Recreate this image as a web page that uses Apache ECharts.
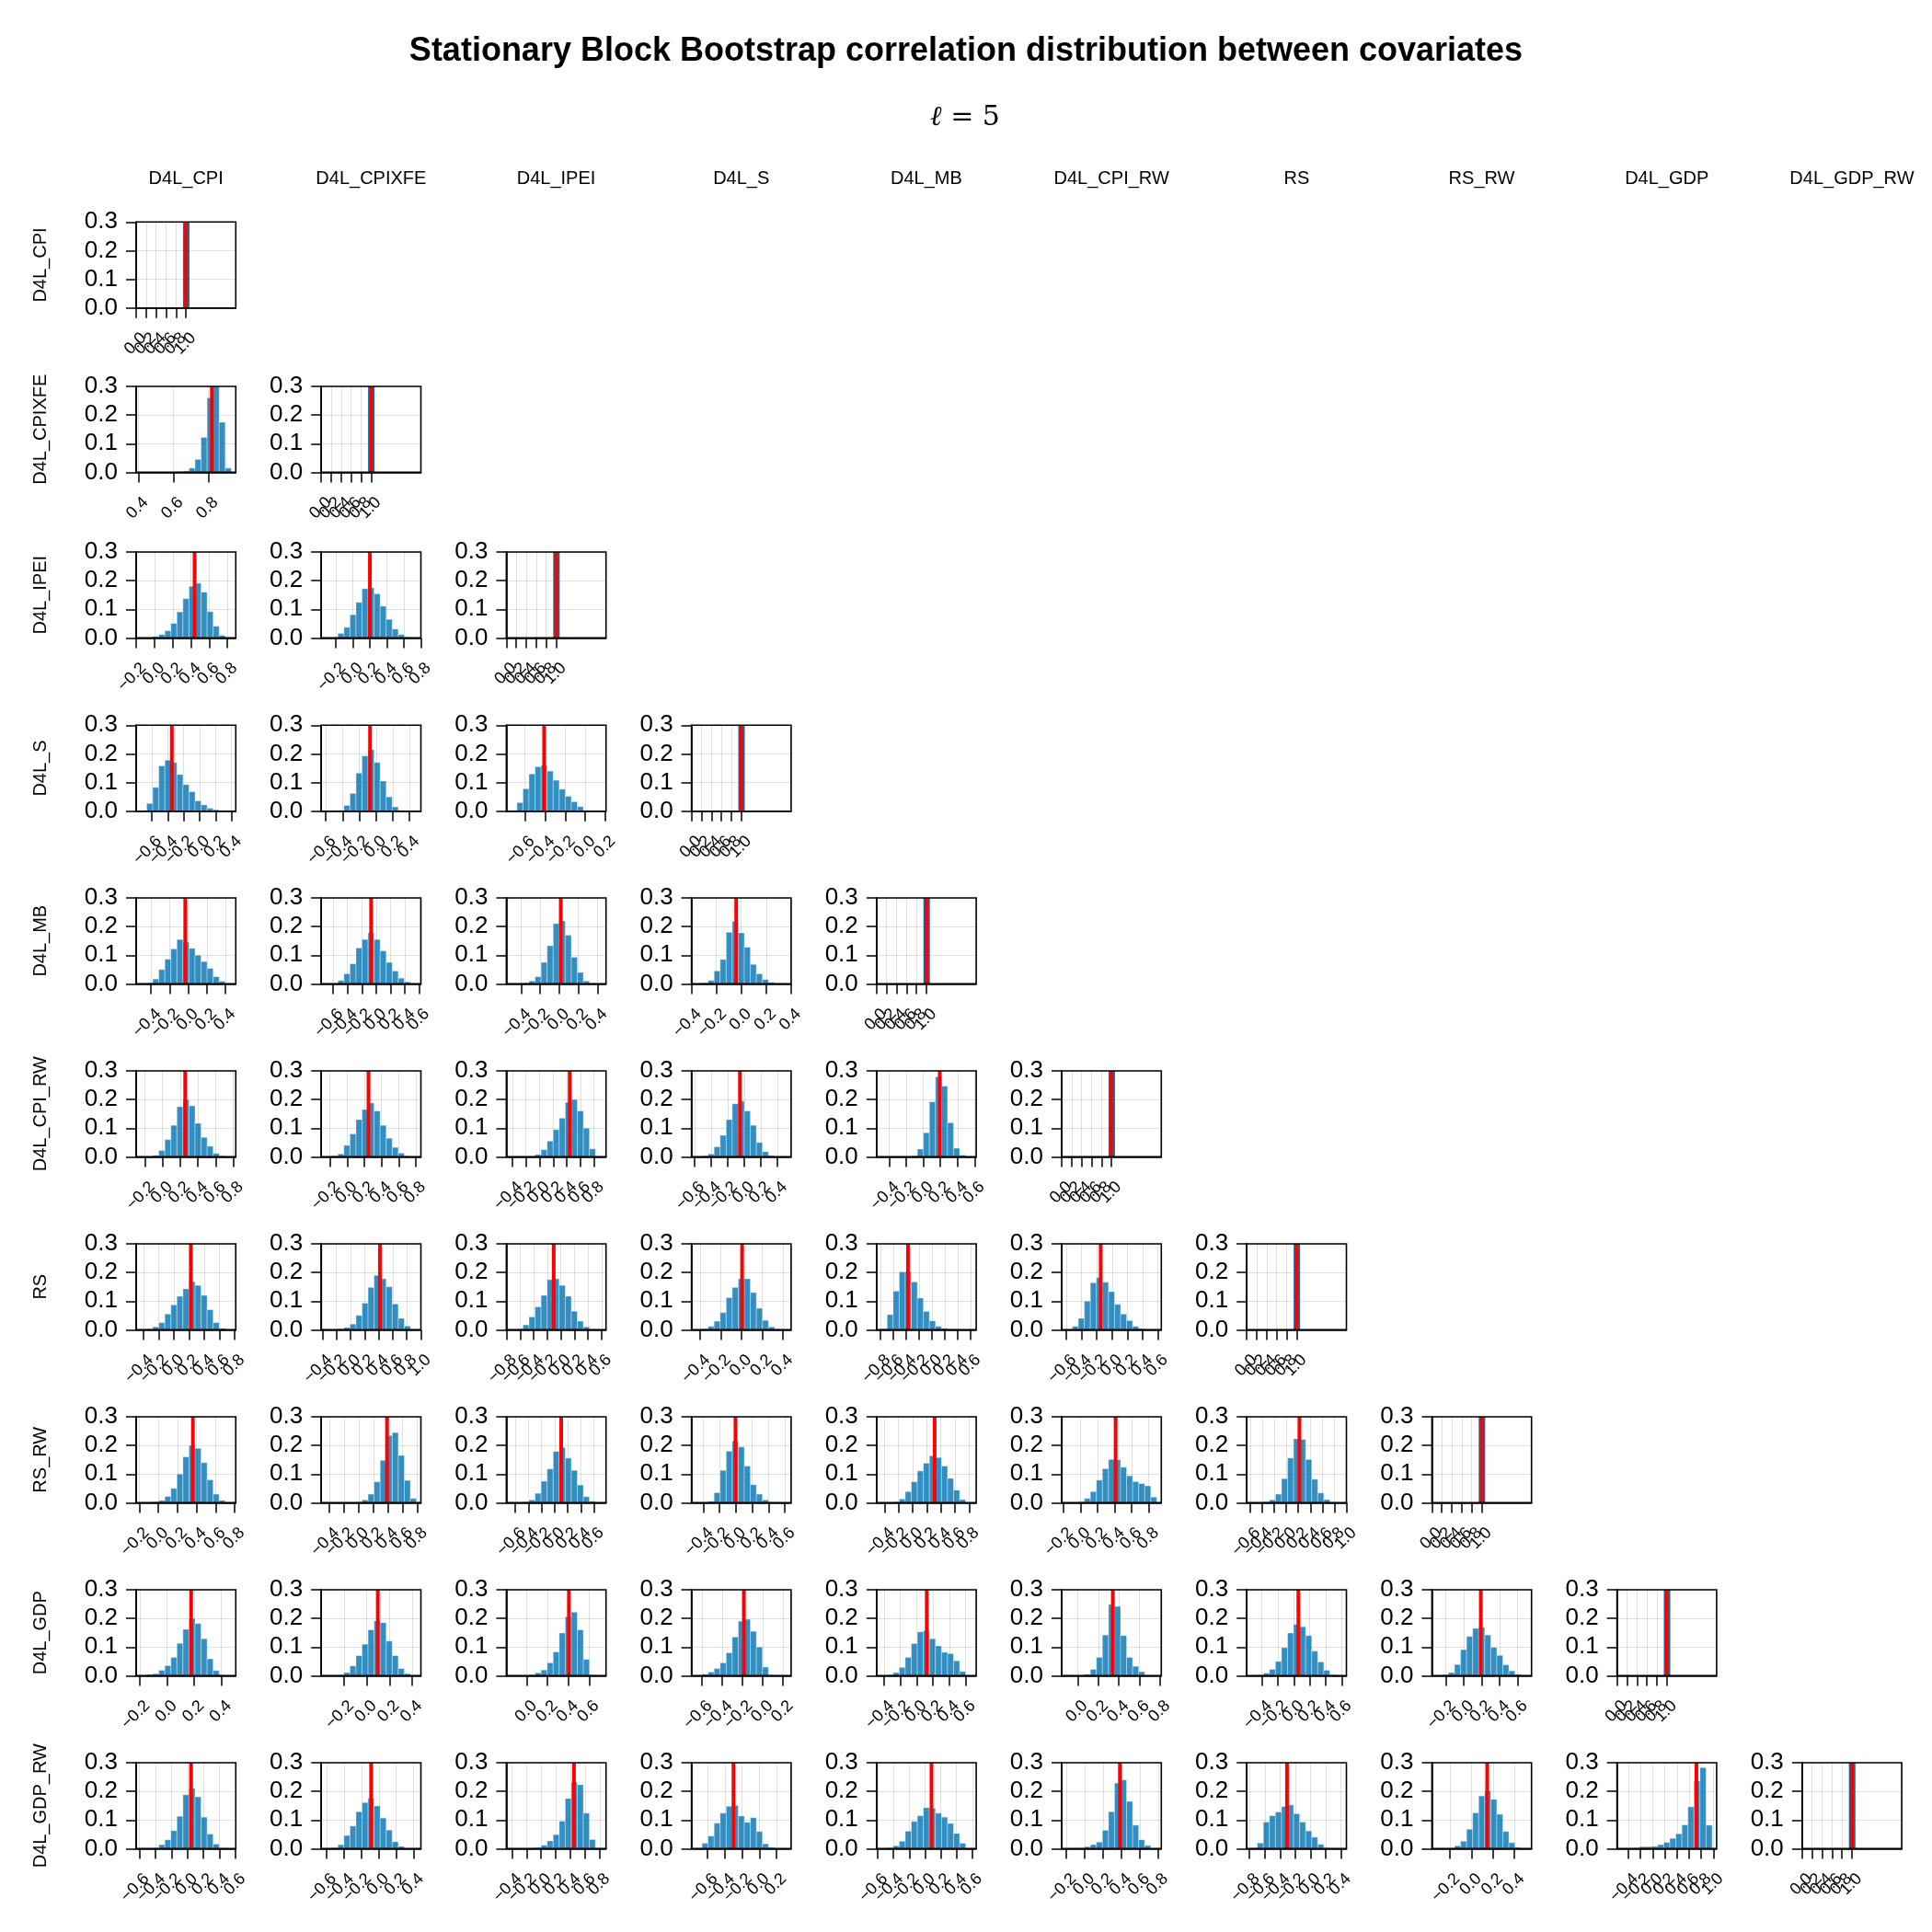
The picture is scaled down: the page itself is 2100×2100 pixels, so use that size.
<!DOCTYPE html>
<html><head><meta charset="utf-8">
<script src="https://cdn.jsdelivr.net/npm/echarts@6/dist/echarts.min.js"></script>
<style>html,body{margin:0;padding:0;background:#fff}#chart{width:2100px;height:2100px}</style>
</head><body><div id="chart"></div>
<script>
// ---------------- DATA ----------------
const VARS = ['D4L_CPI','D4L_CPIXFE','D4L_IPEI','D4L_S','D4L_MB','D4L_CPI_RW','RS','RS_RW','D4L_GDP','D4L_GDP_RW'];
const SHORT = ['CPI','CPIXFE','IPEI','S','MB','CPIRW','RS','RSRW','GDP','GDPRW'];
const TITLE = 'Stationary Block Bootstrap correlation distribution between covariates';
const XTICKS = [-1.0,-0.8,-0.6,-0.4,-0.2,0.0,0.2,0.4,0.6,0.8,1.0];
const YTICKS = [0.0,0.1,0.2,0.3];
const Y_RANGE = [0, 0.3];
const DIAG_RANGE = [0, 2];
const DIAG_BAR = [0.94, 1.07];
const DIAG_HEIGHT = [1.0];
const DIAG_CORR = [1.0];

// Row D4L_CPIXFE
const lo_CPIXFE = [0.414];
const hi_CPIXFE = [0.932];
const corr_CPIXFE = [0.821];
const p_CPIXFE_CPI = [0.001,0,0,0,0,0,0.002,0.005,0.015,0.045,0.122,0.26,0.36,0.175,0.015];

// Row D4L_IPEI
const lo_IPEI = [-0.152,-0.319];
const hi_IPEI = [0.843,0.747];
const corr_IPEI = [0.44,0.2];
const p_IPEI_CPI = [0.001,0.001,0.005,0.012,0.025,0.051,0.091,0.137,0.18,0.191,0.16,0.092,0.041,0.009,0.002];
const p_IPEI_CPIXFE = [0.001,0.002,0.016,0.037,0.081,0.124,0.172,0.175,0.154,0.111,0.065,0.031,0.012,0.003,0.001];

// Row D4L_S
const lo_S = [-0.738,-0.601,-0.737];
const hi_S = [0.396,0.482,0.16];
const corr_S = [-0.348,-0.072,-0.408];
const p_S_CPI = [0.001,0.027,0.083,0.158,0.178,0.17,0.128,0.093,0.068,0.036,0.022,0.01,0.005,0.001,0.001];
const p_S_CPIXFE = [0.001,0.001,0.003,0.02,0.062,0.133,0.193,0.215,0.17,0.105,0.05,0.015,0.003,0.001,0.001];
const p_S_IPEI = [0.002,0.03,0.078,0.13,0.155,0.16,0.14,0.108,0.077,0.052,0.033,0.016,0.003,0.001,0.001];

// Row D4L_MB
const lo_MB = [-0.512,-0.701,-0.506,-0.364];
const hi_MB = [0.462,0.558,0.442,0.364];
const corr_MB = [-0.033,-0.071,0.016,-0.041];
const p_MB_CPI = [0.001,0.003,0.017,0.05,0.086,0.122,0.155,0.146,0.124,0.1,0.078,0.054,0.025,0.009,0.001];
const p_MB_CPIXFE = [0.001,0.002,0.012,0.035,0.07,0.125,0.155,0.178,0.155,0.115,0.075,0.045,0.02,0.007,0.001];
const p_MB_IPEI = [0.001,0.001,0.003,0.01,0.025,0.075,0.133,0.21,0.22,0.17,0.093,0.04,0.01,0.002,0.001];
const p_MB_S = [0.001,0.003,0.012,0.045,0.085,0.18,0.218,0.178,0.128,0.068,0.035,0.015,0.005,0.001,0.001];

// Row D4L_CPI_RW
const lo_CPIRW = [-0.248,-0.249,-0.422,-0.582,-0.494];
const hi_CPIRW = [0.778,0.807,0.911,0.512,0.565];
const corr_CPIRW = [0.256,0.249,0.444,-0.051,0.192];
const p_CPIRW_CPI = [0.001,0.001,0.005,0.022,0.06,0.11,0.175,0.2,0.178,0.117,0.068,0.037,0.012,0.003,0.001];
const p_CPIRW_CPIXFE = [0.001,0.003,0.01,0.04,0.08,0.13,0.165,0.188,0.16,0.11,0.065,0.033,0.013,0.003,0.001];
const p_CPIRW_IPEI = [0.001,0.001,0.001,0.002,0.008,0.025,0.055,0.095,0.135,0.19,0.2,0.16,0.1,0.028,0.002];
const p_CPIRW_S = [0.001,0.003,0.01,0.035,0.075,0.13,0.185,0.195,0.16,0.11,0.05,0.018,0.004,0.001,0.001];
const p_CPIRW_MB = [0.001,0,0,0,0.001,0.003,0.027,0.084,0.192,0.279,0.247,0.119,0.03,0.006,0.001];

// Row RS
const lo_RS = [-0.435,-0.351,-0.735,-0.44,-0.791,-0.602];
const hi_RS = [0.754,0.936,0.6,0.435,0.615,0.587];
const corr_RS = [0.224,0.418,-0.104,0.005,-0.374,-0.149];
const p_RS_CPI = [0.001,0.003,0.01,0.025,0.055,0.087,0.117,0.143,0.168,0.155,0.12,0.07,0.025,0.005,0.001];
const p_RS_CPIXFE = [0.001,0.001,0.003,0.008,0.02,0.05,0.093,0.148,0.19,0.178,0.15,0.09,0.04,0.013,0.002];
const p_RS_IPEI = [0.001,0.003,0.017,0.045,0.08,0.12,0.175,0.178,0.155,0.117,0.065,0.03,0.01,0.002,0.001];
const p_RS_S = [0.001,0.003,0.012,0.03,0.06,0.112,0.148,0.178,0.178,0.13,0.075,0.033,0.01,0.002,0.001];
const p_RS_MB = [0.003,0.053,0.135,0.202,0.203,0.167,0.111,0.064,0.031,0.012,0.005,0.002,0.001,0.001,0.001];
const p_RS_CPIRW = [0.001,0.012,0.04,0.1,0.164,0.182,0.166,0.133,0.089,0.055,0.032,0.012,0.004,0.001,0.001];

// Row RS_RW
const lo_RSRW = [-0.185,-0.45,-0.669,-0.489,-0.447,-0.165,-0.583];
const hi_RSRW = [0.764,0.787,0.716,0.62,0.836,0.893,0.925];
const corr_RSRW = [0.362,0.386,0.1,-0.006,0.311,0.412,0.218];
const p_RSRW_CPI = [0.001,0.001,0.003,0.008,0.022,0.05,0.1,0.16,0.2,0.19,0.14,0.08,0.03,0.008,0.001];
const p_RSRW_CPIXFE = [0.001,0,0,0.001,0.001,0.003,0.01,0.03,0.073,0.148,0.235,0.245,0.165,0.078,0.015];
const p_RSRW_IPEI = [0.001,0.001,0.003,0.01,0.033,0.075,0.118,0.179,0.193,0.156,0.113,0.062,0.021,0.005,0.001];
const p_RSRW_S = [0.001,0.001,0.005,0.035,0.113,0.18,0.215,0.195,0.128,0.063,0.03,0.01,0.002,0.001,0.001];
const p_RSRW_MB = [0.001,0.001,0.003,0.013,0.039,0.073,0.111,0.138,0.164,0.158,0.128,0.085,0.044,0.011,0.001];
const p_RSRW_CPIRW = [0.001,0.001,0.003,0.015,0.039,0.079,0.119,0.151,0.15,0.124,0.094,0.074,0.067,0.059,0.02];
const p_RSRW_RS = [0.001,0.001,0.003,0.01,0.03,0.084,0.156,0.223,0.221,0.151,0.082,0.034,0.011,0.002,0.001];

// Row D4L_GDP
const lo_GDP = [-0.194,-0.359,-0.154,-0.661,-0.436,-0.111,-0.534,-0.304];
const hi_GDP = [0.472,0.437,0.719,0.234,0.675,0.767,0.602,0.704];
const corr_GDP = [0.177,0.098,0.405,-0.188,0.124,0.341,0.056,0.19];
const p_GDP_CPI = [0.001,0.004,0.007,0.019,0.035,0.064,0.113,0.162,0.2,0.182,0.129,0.059,0.018,0.002,0.001];
const p_GDP_CPIXFE = [0.001,0.001,0.003,0.011,0.034,0.07,0.11,0.16,0.191,0.185,0.121,0.07,0.025,0.007,0.001];
const p_GDP_IPEI = [0.001,0,0.001,0.003,0.01,0.02,0.045,0.083,0.149,0.206,0.222,0.16,0.057,0.003,0.001];
const p_GDP_S = [0.001,0.005,0.013,0.025,0.045,0.08,0.135,0.19,0.197,0.155,0.1,0.03,0.003,0.001,0.001];
const p_GDP_MB = [0.001,0.003,0.011,0.029,0.064,0.112,0.153,0.157,0.129,0.104,0.082,0.077,0.052,0.015,0.001];
const p_GDP_CPIRW = [0.001,0,0.001,0.005,0.022,0.064,0.142,0.249,0.242,0.14,0.064,0.033,0.014,0.002,0.001];
const p_GDP_RS = [0.001,0.003,0.009,0.022,0.05,0.098,0.149,0.179,0.171,0.14,0.086,0.048,0.019,0.003,0.001];
const p_GDP_RSRW = [0.001,0.003,0.011,0.039,0.091,0.137,0.165,0.169,0.142,0.099,0.071,0.038,0.017,0.005,0.001];

// Row D4L_GDP_RW
const lo_GDPRW = [-0.582,-0.607,-0.412,-0.736,-0.557,-0.202,-0.777,-0.326,-0.512];
const hi_GDPRW = [0.545,0.43,0.82,0.318,0.592,0.785,0.413,0.516,0.978];
const corr_GDPRW = [0.045,-0.088,0.446,-0.3,0.082,0.383,-0.308,0.146,0.72];
const p_GDPRW_CPI = [0.001,0.001,0.003,0.014,0.031,0.063,0.113,0.188,0.21,0.181,0.11,0.051,0.016,0.002,0.001];
const p_GDPRW_CPIXFE = [0.001,0.003,0.014,0.046,0.079,0.129,0.161,0.176,0.149,0.107,0.065,0.024,0.008,0.001,0.001];
const p_GDPRW_IPEI = [0.001,0,0.001,0.002,0.004,0.012,0.027,0.049,0.096,0.175,0.232,0.223,0.124,0.032,0.002];
const p_GDPRW_S = [0.002,0.019,0.044,0.089,0.124,0.148,0.151,0.114,0.092,0.108,0.06,0.017,0.004,0.001,0.001];
const p_GDPRW_MB = [0.001,0.003,0.01,0.026,0.061,0.095,0.115,0.143,0.141,0.124,0.11,0.088,0.053,0.019,0.001];
const p_GDPRW_CPIRW = [0.001,0.001,0.002,0.007,0.014,0.023,0.064,0.129,0.229,0.24,0.165,0.082,0.031,0.011,0.001];
const p_GDPRW_RS = [0.002,0.02,0.093,0.115,0.128,0.147,0.153,0.122,0.093,0.062,0.04,0.015,0.003,0.001,0.001];
const p_GDPRW_RSRW = [0.001,0.001,0.002,0.01,0.026,0.068,0.125,0.184,0.202,0.172,0.12,0.06,0.021,0.004,0.001];
const p_GDPRW_GDP = [0.001,0.001,0.003,0.007,0.007,0.008,0.014,0.022,0.036,0.052,0.083,0.146,0.236,0.283,0.082];

// -------------- table built from the arrays --------------
const ROWDATA = {
  CPIXFE: {lo: lo_CPIXFE, hi: hi_CPIXFE, corr: corr_CPIXFE, p: [p_CPIXFE_CPI]},
  IPEI: {lo: lo_IPEI, hi: hi_IPEI, corr: corr_IPEI, p: [p_IPEI_CPI, p_IPEI_CPIXFE]},
  S: {lo: lo_S, hi: hi_S, corr: corr_S, p: [p_S_CPI, p_S_CPIXFE, p_S_IPEI]},
  MB: {lo: lo_MB, hi: hi_MB, corr: corr_MB, p: [p_MB_CPI, p_MB_CPIXFE, p_MB_IPEI, p_MB_S]},
  CPIRW: {lo: lo_CPIRW, hi: hi_CPIRW, corr: corr_CPIRW, p: [p_CPIRW_CPI, p_CPIRW_CPIXFE, p_CPIRW_IPEI, p_CPIRW_S, p_CPIRW_MB]},
  RS: {lo: lo_RS, hi: hi_RS, corr: corr_RS, p: [p_RS_CPI, p_RS_CPIXFE, p_RS_IPEI, p_RS_S, p_RS_MB, p_RS_CPIRW]},
  RSRW: {lo: lo_RSRW, hi: hi_RSRW, corr: corr_RSRW, p: [p_RSRW_CPI, p_RSRW_CPIXFE, p_RSRW_IPEI, p_RSRW_S, p_RSRW_MB, p_RSRW_CPIRW, p_RSRW_RS]},
  GDP: {lo: lo_GDP, hi: hi_GDP, corr: corr_GDP, p: [p_GDP_CPI, p_GDP_CPIXFE, p_GDP_IPEI, p_GDP_S, p_GDP_MB, p_GDP_CPIRW, p_GDP_RS, p_GDP_RSRW]},
  GDPRW: {lo: lo_GDPRW, hi: hi_GDPRW, corr: corr_GDPRW, p: [p_GDPRW_CPI, p_GDPRW_CPIXFE, p_GDPRW_IPEI, p_GDPRW_S, p_GDPRW_MB, p_GDPRW_CPIRW, p_GDPRW_RS, p_GDPRW_RSRW, p_GDPRW_GDP]}
};

// -------------- layout & style --------------
const FONT = '"Liberation Sans", "TeX Gyre Heros", Arial, Helvetica, sans-serif';
const PANEL_W = 108.3, PANEL_H = 93.4;
const COL_X0 = 148, COL_STEP = 201.2;
const ROW_TOPS = [241.3, 420, 600, 788.3, 976, 1164, 1352, 1540, 1728, 1916];
const PAD_FRAC = 0.05;
const BAR_FILL = 'rgba(0,114,178,0.8)';
const DIAG_FILL = 'rgb(0,114,178)';
const GRID_LINE = 'rgba(0,0,0,0.12)';
const XL_DX = 8, XL_DY = 30;

function fmt(v) {
  const s = Math.abs(v).toFixed(1);
  return (v < -1e-9 ? '\u2212' : '') + s;
}

const grids = [], xAxes = [], yAxes = [], series = [], graphics = [];
let idx = 0;
for (let r = 0; r < 10; r++) {
  for (let c = 0; c <= r; c++) {
    const diag = (r === c);
    let xmin, xmax, bins, corr, fill, stroke;
    if (diag) {
      xmin = DIAG_RANGE[0]; xmax = DIAG_RANGE[1];
      bins = [[DIAG_BAR[0], DIAG_BAR[1], DIAG_HEIGHT[0]]];
      corr = DIAG_CORR[0]; fill = DIAG_FILL; stroke = null;
    } else {
      const d = ROWDATA[SHORT[r]];
      const lo = d.lo[c], hi = d.hi[c], p = d.p[c];
      const pad = PAD_FRAC * (hi - lo);
      xmin = lo - pad; xmax = hi + pad;
      const w = (hi - lo) / p.length;
      bins = p.map((h, i) => [lo + i * w, lo + (i + 1) * w, h]);
      corr = d.corr[c]; fill = BAR_FILL; stroke = 'rgba(255,255,255,0.45)';
    }
    const ticksIn = XTICKS.filter(t => t >= xmin && t <= xmax);
    grids.push({
      left: COL_X0 + c * COL_STEP, top: ROW_TOPS[r], width: PANEL_W, height: PANEL_H,
      show: true, borderColor: '#000', borderWidth: 1.6, backgroundColor: 'transparent', z: 5
    });
    xAxes.push({
      gridIndex: idx, type: 'value', min: xmin, max: xmax,
      axisLine: {show: true, onZero: false, lineStyle: {color: '#000', width: 1.6}},
      axisTick: {show: true, length: 11, customValues: XTICKS, lineStyle: {color: '#000', width: 1.5}},
      axisLabel: {show: false, customValues: XTICKS},
      splitLine: {show: true, lineStyle: {color: GRID_LINE, width: 1}}
    });
    yAxes.push({
      gridIndex: idx, type: 'value', min: Y_RANGE[0], max: Y_RANGE[1],
      axisLine: {show: true, onZero: false, lineStyle: {color: '#000', width: 1.6}},
      axisTick: {show: true, length: 11, customValues: YTICKS, lineStyle: {color: '#000', width: 1.5}},
      axisLabel: {show: true, customValues: YTICKS, fontSize: 26, fontFamily: FONT, color: '#000', margin: 20,
                  formatter: v => Number(v).toFixed(1)},
      splitLine: {show: true, lineStyle: {color: GRID_LINE, width: 1}}
    });
    const ymax = Y_RANGE[1];
    // histogram bars
    series.push({
      type: 'custom', xAxisIndex: idx, yAxisIndex: idx, silent: true, z: 2,
      data: bins, encode: {x: [0, 1], y: 2},
      renderItem: (params, api) => {
        const h = api.value(2);
        if (!(h > 0)) return null;
        const p0 = api.coord([api.value(0), 0]);
        const p1 = api.coord([api.value(1), Math.min(h, ymax)]);
        return {type: 'rect',
          shape: {x: p0[0], y: p1[1], width: p1[0] - p0[0], height: p0[1] - p1[1]},
          style: stroke ? {fill: fill, stroke: stroke, lineWidth: 0.8} : {fill: fill}};
      }
    });
    // sample correlation (red vertical line)
    series.push({
      type: 'custom', xAxisIndex: idx, yAxisIndex: idx, silent: true, z: 3,
      data: [[corr, 0]], encode: {x: 0, y: 1},
      renderItem: (params, api) => {
        const a = api.coord([api.value(0), Y_RANGE[0]]);
        const b = api.coord([api.value(0), Y_RANGE[1]]);
        return {type: 'line', shape: {x1: a[0], y1: a[1], x2: b[0], y2: b[1]},
          style: {stroke: '#ff0000', lineWidth: 4}};
      }
    });
    // rotated x tick labels
    series.push({
      type: 'custom', xAxisIndex: idx, yAxisIndex: idx, silent: true, clip: false, z: 4,
      data: ticksIn.map(t => [t, 0]), encode: {x: 0, y: 1},
      renderItem: (params, api) => {
        const v = api.value(0);
        const p = api.coord([v, 0]);
        return {type: 'text', x: p[0] + XL_DX, y: p[1] + XL_DY, rotation: Math.PI / 4,
          style: {text: fmt(v), align: 'right', verticalAlign: 'middle', fill: '#000',
                  font: '18px ' + FONT}};
      }
    });
    idx++;
  }
}

// column headers & row labels
for (let c = 0; c < 10; c++) {
  graphics.push({type: 'text', x: COL_X0 + c * COL_STEP + PANEL_W / 2, y: 194, silent: true,
    style: {text: VARS[c], align: 'center', verticalAlign: 'middle', fill: '#000', font: '20px ' + FONT}});
}
for (let r = 0; r < 10; r++) {
  graphics.push({type: 'text', x: 44, y: ROW_TOPS[r] + PANEL_H / 2, rotation: Math.PI / 2, silent: true,
    style: {text: VARS[r], align: 'center', verticalAlign: 'middle', fill: '#000', font: '20px ' + FONT}});
}
graphics.push({type: 'text', x: 1050, y: 56, silent: true,
  style: {text: TITLE, align: 'center', verticalAlign: 'middle', fill: '#000', font: 'bold 36px ' + FONT}});
graphics.push({type: 'text', x: 1049, y: 128, silent: true,
  style: {text: '{l|\u2113} = 5', align: 'center', verticalAlign: 'middle', fill: '#000',
          font: '30px "DejaVu Serif", serif',
          rich: {l: {font: 'italic 30px "DejaVu Serif", serif', fill: '#000'}}}});

const chart = echarts.init(document.getElementById('chart'), null, {renderer: 'canvas', width: 2100, height: 2100});
chart.setOption({
  animation: false,
  backgroundColor: '#ffffff',
  grid: grids, xAxis: xAxes, yAxis: yAxes, series: series,
  graphic: {elements: graphics}
});
</script></body></html>
